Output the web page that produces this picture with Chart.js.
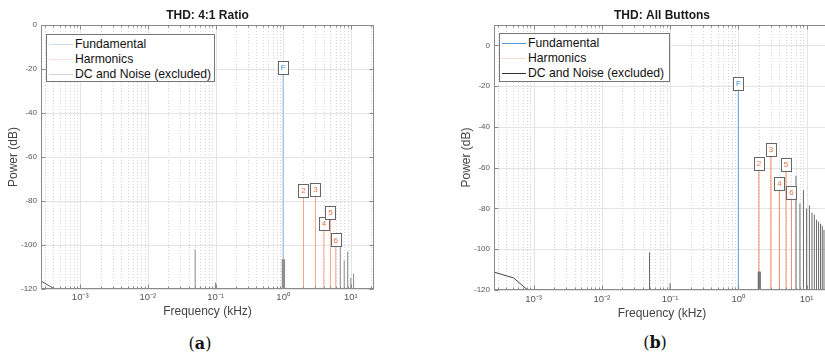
<!DOCTYPE html>
<html>
<head>
<meta charset="utf-8">
<script src="https://cdn.jsdelivr.net/npm/chart.js@4.4.1/dist/chart.umd.min.js"></script>
<style>
  html, body { margin: 0; padding: 0; width: 825px; height: 354px; overflow: hidden; background: #fff; }
  canvas { position: absolute; top: 0; }
  .legend { position: absolute; background: #fff; border: 1px solid #777; box-sizing: border-box;
            font-family: 'Liberation Sans', Arial, sans-serif; font-size: 12.2px; color: #111; }
  .legend .row { position: absolute; left: 0; height: 15px; line-height: 15px; white-space: nowrap; }
  .legend .swatch { position: absolute; top: 7px; height: 1px; }
  .legend .txt { position: absolute; top: 0; }
  .caption { position: absolute; font-family: 'DejaVu Serif', serif; font-size: 16px; color: #111; transform: translate(-50%, -50%); white-space: nowrap; }
  .caption b { font-weight: bold; }
</style>
</head>
<body>
<canvas id="chartA" width="412" height="320" style="left:0px"></canvas>
<canvas id="chartB" width="380" height="322" style="left:453px"></canvas>
<div id="legendA" class="legend" style="left:46px; top:34px; width:169px; height:48px;"></div>
<div id="legendB" class="legend" style="left:499px; top:33px; width:171px; height:49px;"></div>
<div class="caption" style="left:200px; top:343px;">(<b>a</b>)</div>
<div class="caption" style="left:655px; top:342px;">(<b>b</b>)</div>

<script>
const titleA = 'THD: 4:1 Ratio';
const titleB = 'THD: All Buttons';
const legendLabels = ['Fundamental', 'Harmonics', 'DC and Noise (excluded)'];
const yLabel = 'Power (dB)';
const xLabel = 'Frequency (kHz)';
const xTickVals = [0.001, 0.01, 0.1, 1, 10];
const xTickLabels = ['10⁻³', '10⁻²', '10⁻¹', '10⁰', '10¹'];
const yTickVals = [-120, -100, -80, -60, -40, -20, 0];
const harmTags = ['2', '3', '4', '5', '6'];
const fundTag = 'F';

// panel (a) 4:1 ratio
const aFundFreq = [1];
const aFundPow = [-19.3];
const aHarmFreq = [2, 3, 4, 5, 6];
const aHarmPow = [-75.3, -74.7, -90.2, -85.3, -97.7];
const aNoiseFreq = [0.05, 0.1, 0.97, 0.985, 1.015, 1.03, 1.05, 7, 8, 9, 10, 11];
const aNoisePow = [-102, -117, -106.5, -106.5, -106.5, -106.5, -106.5, -100, -107, -103, -115, -113];
const aDcFreq = [0.000263, 0.00042];
const aDcPow = [-116.4, -120];

// panel (b) all buttons
const bFundFreq = [1];
const bFundPow = [-18.5];
const bHarmFreq = [2, 3, 4, 5, 6];
const bHarmPow = [-57.8, -51, -67.6, -58.3, -72];
const bNoiseFreq = [0.05, 0.1, 1.96, 1.99, 2.06, 2.1, 4, 7, 8, 9, 10, 11, 12, 13, 14, 15, 16, 17, 18];
const bNoisePow = [-101.5, -116.7, -111, -111, -111, -111, -119, -64, -77.5, -71, -80, -78.5, -82, -83, -85.5, -86.5, -87.5, -88.5, -90.5];
const bDcFreq = [0.000263, 0.00051, 0.00082];
const bDcPow = [-111.2, -114.1, -120];

const xMin = 0.000263, xMax = 22.05;
const FONT = "'Liberation Sans', Arial, sans-serif";

function stemData(freqs, pows, floor) {
  const d = [];
  freqs.forEach((f, i) => {
    d.push({ x: f, y: floor }, { x: f, y: pows[i] }, { x: f, y: null });
  });
  return d;
}

function lineData(freqs, pows) {
  return freqs.map((f, i) => ({ x: f, y: pows[i] }));
}

function strokeLine(ctx, x1, y1, x2, y2) {
  ctx.beginPath();
  ctx.moveTo(x1, y1);
  ctx.lineTo(x2, y2);
  ctx.stroke();
}

// matlab-like grid, box, inward ticks and stem labels
const matlabAxes = {
  id: 'matlabAxes',
  beforeDatasetsDraw(chart) {
    const { ctx, chartArea: a, scales: { x, y } } = chart;
    ctx.save();
    ctx.lineWidth = 1;
    ctx.strokeStyle = '#d6d6d6';
    ctx.setLineDash([1, 2]);
    for (let e = -4; e <= 1; e++) {
      for (let k = 2; k <= 9; k++) {
        const v = k * Math.pow(10, e);
        if (v <= x.min || v >= x.max) continue;
        const px = Math.round(x.getPixelForValue(v)) + 0.5;
        strokeLine(ctx, px, a.top, px, a.bottom);
      }
    }
    ctx.setLineDash([]);
    ctx.strokeStyle = '#e4e4e4';
    xTickVals.forEach(v => {
      const px = Math.round(x.getPixelForValue(v)) + 0.5;
      strokeLine(ctx, px, a.top, px, a.bottom);
    });
    yTickVals.forEach(v => {
      const py = Math.round(y.getPixelForValue(v)) + 0.5;
      strokeLine(ctx, a.left, py, a.right, py);
    });
    ctx.restore();
  },
  afterDatasetsDraw(chart, args, opts) {
    const { ctx, chartArea: a, scales: { x, y } } = chart;
    ctx.save();
    ctx.lineWidth = 1;
    ctx.strokeStyle = '#8a8a8a';
    const L = Math.round(a.left) + 0.5, R = Math.round(a.right) - 0.5;
    const T = Math.round(a.top) + 0.5, B = Math.round(a.bottom) - 0.5;
    ctx.strokeRect(L, T, R - L, B - T);
    for (let e = -4; e <= 1; e++) {
      for (let k = 1; k <= 9; k++) {
        const v = k * Math.pow(10, e);
        if (v <= x.min || v >= x.max) continue;
        const len = k === 1 ? 4 : 2;
        const px = Math.round(x.getPixelForValue(v)) + 0.5;
        strokeLine(ctx, px, B, px, B - len);
        strokeLine(ctx, px, T, px, T + len);
      }
    }
    yTickVals.forEach(v => {
      const py = Math.round(y.getPixelForValue(v)) + 0.5;
      strokeLine(ctx, L, py, L + 4, py);
      strokeLine(ctx, R, py, R - 4, py);
    });
    ctx.font = '8px ' + FONT;
    ctx.textAlign = 'center';
    ctx.textBaseline = 'middle';
    opts.tags.forEach(t => {
      const px = x.getPixelForValue(t.f);
      const py = y.getPixelForValue(t.p);
      ctx.fillStyle = '#fff';
      ctx.fillRect(px - 5, py - 6.5, 10, 13);
      ctx.strokeStyle = '#666';
      ctx.strokeRect(Math.round(px - 5) + 0.5, Math.round(py - 6.5) + 0.5, 10, 13);
      ctx.fillStyle = t.color;
      ctx.fillText(t.t, px, py + 0.5);
    });
    ctx.restore();
  }
};

function makeChart(id, c) {
  const tags = [{ f: c.fundF[0], p: c.fundP[0], t: fundTag, color: c.fundText }];
  c.harmF.forEach((f, i) => tags.push({ f: f, p: c.harmP[i], t: harmTags[i], color: c.harmText }));
  const stem = { showLine: true, borderWidth: 1, pointRadius: 0, spanGaps: false };
  return new Chart(document.getElementById(id), {
    type: 'scatter',
    data: {
      datasets: [
        { ...stem, label: legendLabels[2], data: lineData(c.dcF, c.dcP), borderColor: c.dcColor },
        { ...stem, label: legendLabels[2], data: stemData(c.noiseF, c.noiseP, c.yMin), borderColor: c.noiseColor },
        { ...stem, label: legendLabels[1], data: stemData(c.harmF, c.harmP, c.yMin), borderColor: c.harmColor },
        { ...stem, label: legendLabels[0], data: stemData(c.fundF, c.fundP, c.yMin), borderColor: c.fundColor }
      ]
    },
    options: {
      responsive: false,
      animation: false,
      devicePixelRatio: 1,
      layout: { padding: { left: 0, right: c.padRight, top: 0, bottom: 0 } },
      plugins: {
        legend: { display: false },
        tooltip: { enabled: false },
        title: {
          display: true, text: c.title, fullSize: false, color: '#1a1a1a',
          font: { family: FONT, size: 12, weight: 'bold', lineHeight: 1.2 },
          padding: { top: 8.8, bottom: 1.8 }
        },
        matlabAxes: { tags: tags }
      },
      scales: {
        x: {
          type: 'logarithmic', min: xMin, max: xMax,
          grid: { display: false, drawTicks: false }, border: { display: false },
          afterBuildTicks: s => { s.ticks = xTickVals.map(v => ({ value: v })); },
          afterFit: s => { s.height = c.xAxisH; },
          ticks: {
            autoSkip: false, maxRotation: 0, padding: c.xTickPad, color: '#555',
            font: { family: FONT, size: 9.5 },
            callback: (v, i) => xTickLabels[i]
          },
          title: { display: true, text: xLabel, color: '#444', font: { family: FONT, size: 12 }, padding: { top: 0, bottom: 1 } }
        },
        y: {
          min: c.yMin, max: c.yMax,
          grid: { display: false, drawTicks: false }, border: { display: false },
          afterBuildTicks: s => { s.ticks = yTickVals.map(v => ({ value: v })); },
          afterFit: s => { s.width = 41; },
          ticks: { padding: 4, color: '#555', font: { family: FONT, size: 8 } },
          title: { display: true, text: yLabel, color: '#444', font: { family: FONT, size: 12 }, padding: { top: 6, bottom: 0 } }
        }
      }
    },
    plugins: [matlabAxes]
  });
}

function buildLegend(id, colors) {
  const box = document.getElementById(id);
  legendLabels.forEach((lab, i) => {
    box.innerHTML += `<div class="row" style="top:${1.5 + i * 15}px">
      <span class="swatch" style="left:2px; width:24px; background:${colors[i]}"></span>
      <span class="txt" style="left:28px">${lab}</span></div>`;
  });
}

makeChart('chartA', {
  title: titleA, yMin: -120, yMax: 0, padRight: 38, xAxisH: 31, xTickPad: 3,
  fundF: aFundFreq, fundP: aFundPow, harmF: aHarmFreq, harmP: aHarmPow,
  noiseF: aNoiseFreq, noiseP: aNoisePow, dcF: aDcFreq, dcP: aDcPow,
  fundColor: '#86b6de', harmColor: '#f4a78a', noiseColor: '#8c8c8c', dcColor: '#555',
  fundText: '#3f8fd0', harmText: '#e8703f'
});

makeChart('chartB', {
  title: titleB, yMin: -120, yMax: 10, padRight: 3, xAxisH: 32, xTickPad: 4,
  fundF: bFundFreq, fundP: bFundPow, harmF: bHarmFreq, harmP: bHarmPow,
  noiseF: bNoiseFreq, noiseP: bNoisePow, dcF: bDcFreq, dcP: bDcPow,
  fundColor: '#5aa1da', harmColor: '#ee8b68', noiseColor: '#6a6a6a', dcColor: '#444',
  fundText: '#3f8fd0', harmText: '#e8703f'
});

buildLegend('legendA', ['#c9def0', '#fadfd5', '#d3d3d3']);
buildLegend('legendB', ['#4f9bd9', '#f8dccf', '#333333']);
</script>
</body>
</html>
